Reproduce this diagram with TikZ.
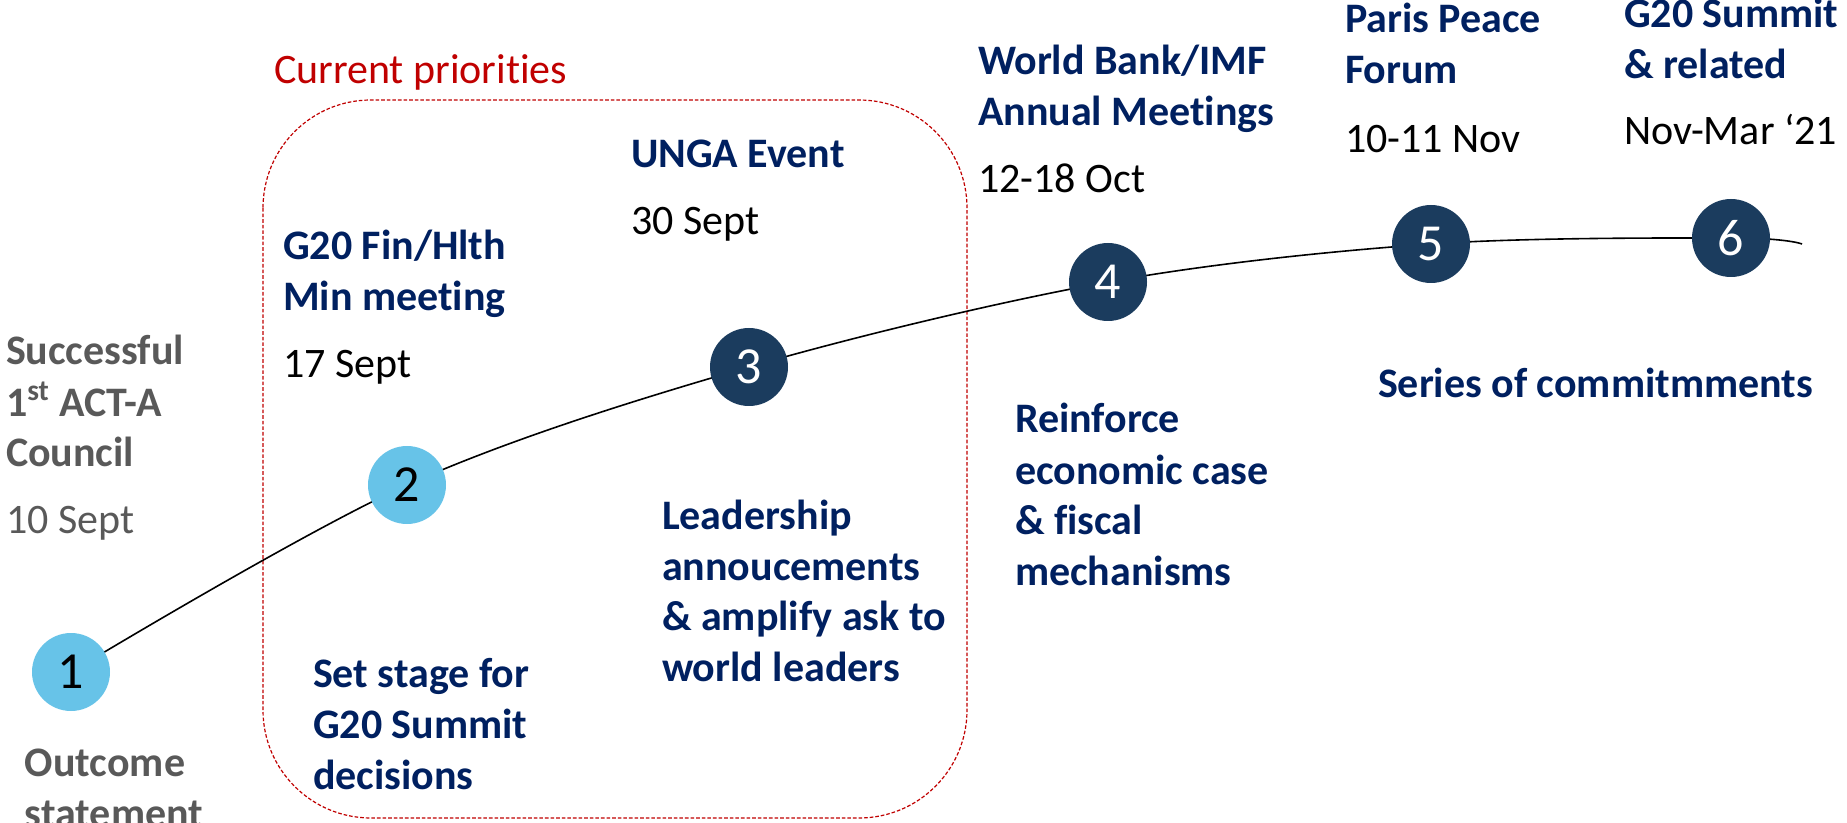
\documentclass[tikz,border=0pt]{standalone}
\usepackage{fontspec}
\setmainfont{Carlito}[Ligatures=NoCommon]
\usetikzlibrary{backgrounds}

\definecolor{navy}{HTML}{002060}
\definecolor{greytext}{HTML}{595959}
\definecolor{prioritiesred}{HTML}{C00000}
\definecolor{milestonedark}{HTML}{1B3C5E}
\definecolor{milestonelight}{HTML}{67C3E8}

% stacked lines whose reference point is the first baseline
\newcommand{\txtlines}[1]{\begin{tabular}[t]{@{}l@{}}#1\end{tabular}}

\begin{document}
\begin{tikzpicture}[x=0.5pt,y=-0.5pt,
  basefont/.style={font=\fontsize{21}{25.5}\selectfont, anchor=base west, inner sep=0pt, outer sep=0pt},
  eventtitle/.style={basefont, font=\fontsize{21}{25.5}\selectfont\bfseries, text=navy},
  eventdate/.style={basefont, text=black},
  pasttitle/.style={basefont, font=\fontsize{21}{25.5}\selectfont\bfseries, text=greytext},
  pastdate/.style={basefont, text=greytext},
  goal/.style={basefont, font=\fontsize{21}{25.5}\selectfont\bfseries, text=navy},
  milestone/.style={circle, minimum size=39pt, inner sep=0pt, font=\fontsize{26}{30}\selectfont},
  donestone/.style={milestone, fill=milestonelight, text=black},
  nextstone/.style={milestone, fill=milestonedark, text=white},
  timeline/.style={draw=black, line width=0.8pt},
  prioritybox/.style={draw=prioritiesred, line width=0.6pt, dash pattern=on 1.8pt off 1pt, rounded corners=54pt}
]
\useasboundingbox (0,0) rectangle (1847,823);

% milestones
\node[donestone] (m1) at (71,672) {1};
\node[donestone] (m2) at (407,485) {2};
\node[nextstone] (m3) at (749,367) {3};
\node[nextstone] (m4) at (1108,282) {4};
\node[nextstone] (m5) at (1431,244) {5};
\node[nextstone] (m6) at (1731,238) {6};
\coordinate (tail) at (1802,244);

% current priorities frame and the timeline curve behind the milestones
\begin{scope}[on background layer]
  \coordinate (frameNW) at (263,100);
  \coordinate (frameSE) at (967,818);
  \draw[prioritybox] (frameNW) rectangle (frameSE);
  \draw[timeline] plot[smooth, tension=0.55] coordinates
    {(m1.center) (m2.center) (m3.center) (m4.center) (m5.center) (m6.center) (tail)};
\end{scope}

\node[basefont, text=prioritiesred] (prio) at (274,84) {Current priorities};

% 1 -- ACT-A Council
\node[pasttitle] (t1) at (6,365) {\txtlines{Successful\\1\textsuperscript{st} ACT-A\\Council}};
\node[pastdate] (d1) at (6,533) {10 Sept};
\node[pasttitle] (g1) at (25,776) {\txtlines{Outcome\\statement}};

% 2 -- G20 ministers
\node[eventtitle] (t2) at (283,260) {\txtlines{G20 Fin/Hlth\\Min meeting}};
\node[eventdate] (d2) at (283,378) {17 Sept};
\node[goal] (g2) at (313,687) {\txtlines{Set stage for\\G20 Summit\\decisions}};

% 3 -- UNGA
\node[eventtitle] (t3) at (631,168) {UNGA Event};
\node[eventdate] (d3) at (631,235) {30 Sept};
\node[goal] (g3) at (662,529) {\txtlines{Leadership\\annoucements\\\& amplify ask to\\world leaders}};

% 4 -- World Bank / IMF
\node[eventtitle] (t4) at (978,75) {\txtlines{World Bank/IMF\\Annual Meetings}};
\node[eventdate] (d4) at (978,193) {12-18 Oct};
\node[goal] (g4) at (1015,433) {\txtlines{Reinforce\\economic case\\\& fiscal\\mechanisms}};

% 5 -- Paris Peace Forum
\node[eventtitle] (t5) at (1345,33) {\txtlines{Paris Peace\\Forum}};
\node[eventdate] (d5) at (1345,153) {10-11 Nov};

% 6 -- G20 Summit
\node[eventtitle] (t6) at (1624,28) {\txtlines{G20 Summit\\\& related}};
\node[eventdate] (d6) at (1624,145) {Nov-Mar ‘21};

\node[goal] (g56) at (1378,398) {Series of commitmments};
\end{tikzpicture}
\end{document}
